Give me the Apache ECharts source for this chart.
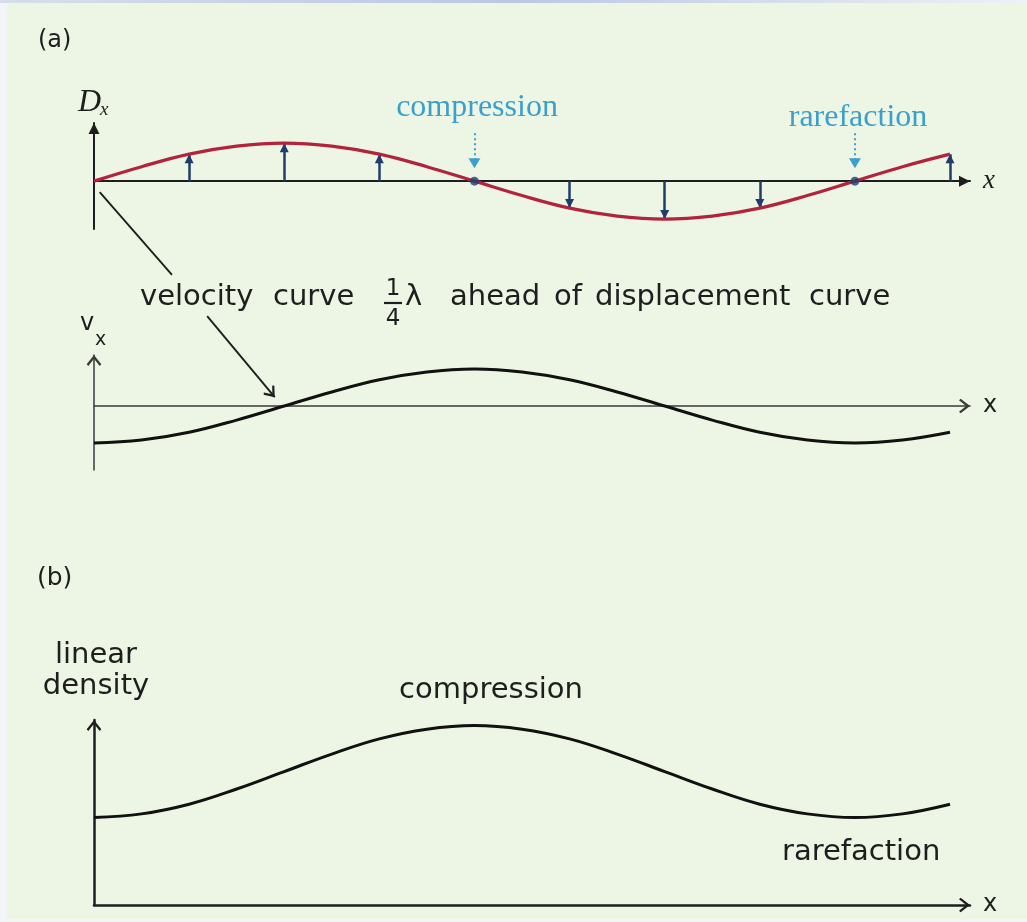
<!DOCTYPE html>
<html>
<head>
<meta charset="utf-8">
<title>Longitudinal wave: displacement, velocity and linear density</title>
<script src="https://cdn.jsdelivr.net/npm/echarts@6/dist/echarts.min.js"></script>
<style>
  html, body { margin: 0; padding: 0; background: #edf6e5; }
  #chart { width: 1027px; height: 922px; }
</style>
</head>
<body>
<div id="chart"></div>
<script>
// Position along the medium, in eighths of a wavelength (λ = 8 units).
const positions    = [0, 0.5, 1, 1.5, 2, 2.5, 3, 3.5, 4, 4.5, 5, 5.5, 6, 6.5, 7, 7.5, 8, 8.5, 9];
// (a) displacement D_x of each element (amplitude = 1)
const displacement = [0, 0.38, 0.71, 0.92, 1, 0.92, 0.71, 0.38, 0, -0.38, -0.71, -0.92, -1, -0.92, -0.71, -0.38, 0, 0.38, 0.71];
// (a) velocity v_x, a quarter wavelength ahead of the displacement
const velocity     = [-1, -0.92, -0.71, -0.38, 0, 0.38, 0.71, 0.92, 1, 0.92, 0.71, 0.38, 0, -0.38, -0.71, -0.92, -1, -0.92, -0.71];
// (b) linear density (arbitrary units, zero at the x axis)
const density      = [1.9, 1.98, 2.19, 2.52, 2.9, 3.28, 3.61, 3.82, 3.9, 3.82, 3.61, 3.28, 2.9, 2.52, 2.19, 1.98, 1.9, 1.98, 2.19];

// Elements whose displacement is shown as an arrow
const arrowPositions = [1, 2, 3, 5, 6, 7, 9];
// Nodes of the displacement curve and what happens there
const nodePositions = [4, 8];
const nodeNames     = ['compression', 'rarefaction'];
// Dotted pointer arrows above the nodes: [start height, end height] in D_x units
const nodePointer   = [1.26, 0.34];

// Leader lines of the "velocity curve" note, in data units
const leaderFromOrigin = [[0.06, -0.29], [0.82, -2.47]];   // displacement panel
const leaderToVelocity = [[1.19, 2.43], [1.90, 0.24]];     // velocity panel

const X_MAX = 9.21;
const HAND = '"DejaVu Sans", sans-serif';
const SERIF = '"Liberation Serif", "DejaVu Serif", serif';
const INK = '#1e1e1e';

// Arrowheads whose tip sits at the centre of the symbol box
const HEAD_FILLED = 'path://M6,0L6,0M6,12L12,24L0,24Z';
const HEAD_OPEN   = 'path://M8,0L8,0M8,12L16,22.2L14.2,24L8,16.2L1.8,24L0,22.2Z';

const valueAt = (arr, p) => arr[positions.indexOf(p)];
const pairs = arr => positions.map((p, i) => [p, arr[i]]);

function xAxis(grid, lineColor, lineWidth, head, headSize, nameStyle) {
  return {
    type: 'value', gridIndex: grid, min: 0, max: X_MAX,
    name: 'x', nameLocation: 'end', nameGap: 13, nameTextStyle: nameStyle,
    axisLine: { show: true, onZero: true, symbol: ['none', head], symbolSize: headSize,
                lineStyle: { color: lineColor, width: lineWidth } },
    axisTick: { show: false }, axisLabel: { show: false }, splitLine: { show: false }
  };
}
function yAxis(grid, min, max, lineColor, lineWidth, head, headSize) {
  return {
    type: 'value', gridIndex: grid, min: min, max: max,
    axisLine: { show: true, onZero: true, symbol: ['none', head], symbolSize: headSize,
                lineStyle: { color: lineColor, width: lineWidth } },
    axisTick: { show: false }, axisLabel: { show: false }, splitLine: { show: false }
  };
}

function txt(text, x, y, font, opts) {
  return {
    type: 'text', x: x, y: y, silent: true, z: 10,
    style: Object.assign({ text: text, font: font, fill: INK, align: 'left', verticalAlign: 'middle' }, opts || {})
  };
}

const chart = echarts.init(document.getElementById('chart'), null, { renderer: 'canvas' });

const option = {
  backgroundColor: '#edf6e5',
  animation: false,
  grid: [
    { left: 94, right: 57, top: 123, height: 106, containLabel: false, outerBoundsMode: 'none' },
    { left: 94, right: 57, top: 355, height: 115, containLabel: false, outerBoundsMode: 'none' },
    { left: 94, right: 57, top: 720, height: 185, containLabel: false, outerBoundsMode: 'none' }
  ],
  xAxis: [
    xAxis(0, INK, 2, HEAD_FILLED, [11, 24], { fontFamily: SERIF, fontStyle: 'italic', fontSize: 27, color: INK }),
    xAxis(1, '#3a3a3a', 1.5, HEAD_OPEN, [15, 22], { fontFamily: HAND, fontSize: 24, color: INK }),
    xAxis(2, INK, 2.5, HEAD_OPEN, [15, 22], { fontFamily: HAND, fontSize: 24, color: INK })
  ],
  yAxis: [
    yAxis(0, -1.26, 1.53, INK, 2, HEAD_FILLED, [11, 24]),
    yAxis(1, -1.73, 1.38, '#3a3a3a', 1.5, HEAD_OPEN, [15, 22]),
    yAxis(2, 0, 4.02, INK, 2.5, HEAD_OPEN, [15, 22])
  ],
  series: [
    // displacement arrows, drawn under the curve
    {
      type: 'lines', coordinateSystem: 'cartesian2d', xAxisIndex: 0, yAxisIndex: 0, z: 3,
      symbol: ['none', HEAD_FILLED], symbolSize: [0, [9, 18]],
      lineStyle: { color: '#1f3d6b', width: 2.5, opacity: 1 },
      data: arrowPositions.map(p => ({ coords: [[p, 0], [p, valueAt(displacement, p)]] }))
    },
    {
      name: 'displacement', type: 'line', xAxisIndex: 0, yAxisIndex: 0, z: 4,
      data: pairs(displacement), smooth: 0.4, showSymbol: false, symbol: 'none',
      lineStyle: { color: '#b2233d', width: 3.2 }
    },
    {
      name: 'nodes', type: 'scatter', xAxisIndex: 0, yAxisIndex: 0, z: 5,
      symbolSize: 9, itemStyle: { color: '#1b3f70' },
      data: nodePositions.map(p => [p, 0])
    },
    {
      type: 'lines', coordinateSystem: 'cartesian2d', xAxisIndex: 0, yAxisIndex: 0, z: 5, clip: false,
      symbol: ['none', HEAD_FILLED], symbolSize: [0, [12, 20]],
      lineStyle: { color: '#3aa0cc', width: 2, type: [2, 3], opacity: 1 },
      data: nodePositions.map(p => ({ coords: [[p, nodePointer[0]], [p, nodePointer[1]]] }))
    },
    {
      type: 'lines', coordinateSystem: 'cartesian2d', xAxisIndex: 0, yAxisIndex: 0, z: 5, clip: false,
      symbol: ['none', 'none'],
      lineStyle: { color: INK, width: 1.9, opacity: 1 },
      data: [{ coords: leaderFromOrigin }]
    },
    {
      name: 'velocity', type: 'line', xAxisIndex: 1, yAxisIndex: 1, z: 4,
      data: pairs(velocity), smooth: 0.4, showSymbol: false, symbol: 'none',
      lineStyle: { color: '#111', width: 3 }
    },
    {
      type: 'lines', coordinateSystem: 'cartesian2d', xAxisIndex: 1, yAxisIndex: 1, z: 5, clip: false,
      symbol: ['none', HEAD_OPEN], symbolSize: [0, [14, 21]],
      lineStyle: { color: INK, width: 1.9, opacity: 1 },
      data: [{ coords: leaderToVelocity }]
    },
    {
      name: 'linear density', type: 'line', xAxisIndex: 2, yAxisIndex: 2, z: 4,
      data: pairs(density), smooth: 0.4, showSymbol: false, symbol: 'none',
      lineStyle: { color: '#111', width: 3 }
    }
  ],
  graphic: [
    // page margins around the figure
    { type: 'rect', silent: true, z: 20, shape: { x: 0, y: 0, width: 7, height: 922 }, style: { fill: '#f2f4f8' } },
    { type: 'rect', silent: true, z: 20, shape: { x: 0, y: 919, width: 1027, height: 3 }, style: { fill: '#f2f4f8' } },
    { type: 'rect', silent: true, z: 20, shape: { x: 0, y: 0, width: 1027, height: 3 },
      style: { fill: new echarts.graphic.LinearGradient(0, 0, 1, 0, [
        { offset: 0, color: '#d6deea' }, { offset: 0.5, color: '#b9c9e2' }, { offset: 1, color: '#eef1f5' }]) } },

    // panel (a)
    txt('(a)', 38, 41, '24px ' + HAND),
    txt('D', 78, 103, 'italic 32px ' + SERIF),
    txt('x', 100, 110, 'italic 19px ' + SERIF),
    txt(nodeNames[0], 477, 108, '32px ' + SERIF, { align: 'center', fill: '#3b9fcb' }),
    txt(nodeNames[1], 858, 118, '32px ' + SERIF, { align: 'center', fill: '#3b9fcb' }),

    // note linking the two curves
    txt('velocity', 140, 297, '29px ' + HAND),
    txt('curve', 273, 297, '29px ' + HAND),
    txt('1', 393, 289, '23px ' + HAND, { align: 'center' }),
    { type: 'line', silent: true, z: 10, shape: { x1: 384, y1: 303, x2: 402, y2: 303 }, style: { stroke: INK, lineWidth: 2.2 } },
    txt('4', 393, 319, '23px ' + HAND, { align: 'center' }),
    txt('λ', 405, 297, '29px ' + HAND),
    txt('ahead', 450, 297, '29px ' + HAND),
    txt('of', 554, 297, '29px ' + HAND),
    txt('displacement', 595, 297, '29px ' + HAND),
    txt('curve', 809, 297, '29px ' + HAND),

    txt('v', 80, 324, '24px ' + HAND),
    txt('x', 95, 340, '19px ' + HAND),

    // panel (b)
    txt('(b)', 37, 578, '25px ' + HAND),
    txt('linear', 96, 655, '29px ' + HAND, { align: 'center' }),
    txt('density', 96, 686, '29px ' + HAND, { align: 'center' }),
    txt('compression', 491, 690, '29px ' + HAND, { align: 'center' }),
    txt('rarefaction', 782, 852, '29px ' + HAND)
  ]
};

chart.setOption(option);
</script>
</body>
</html>
